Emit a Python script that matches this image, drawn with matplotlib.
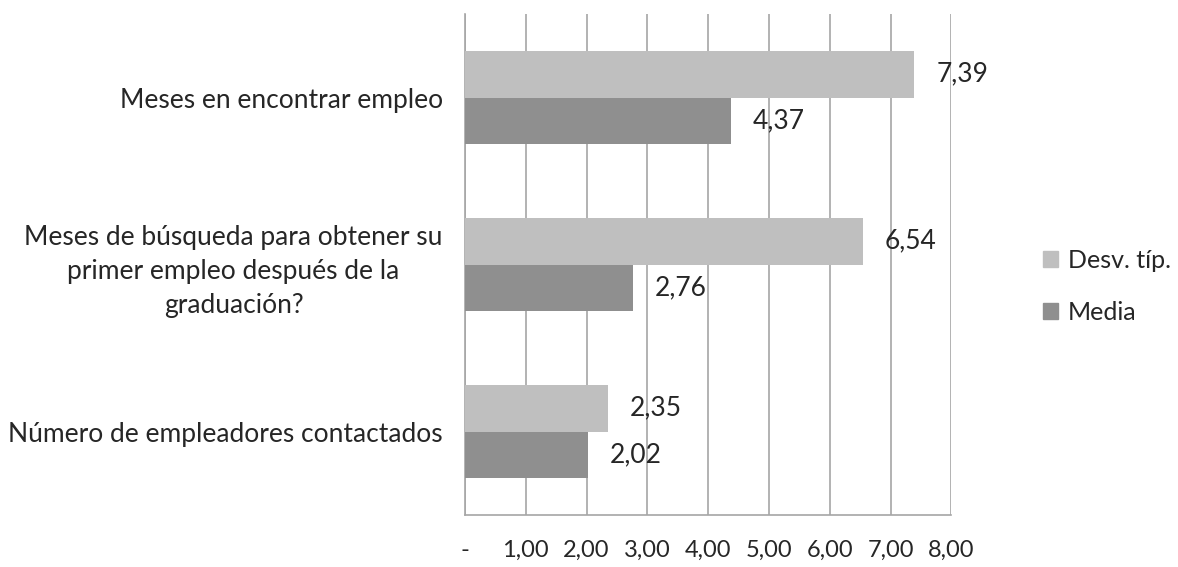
import matplotlib
matplotlib.use("Agg")
import matplotlib.pyplot as plt
import numpy as np
from matplotlib.patches import Patch

categories = ["Meses en encontrar empleo",
              "Meses de búsqueda para obtener su\nprimer empleo después de la\ngraduación?",
              "Número de empleadores contactados"]
desv = [7.39, 6.54, 2.35]
media = [4.37, 2.76, 2.02]
series_names = ["Desv. típ.", "Media"]
xticks = [0, 1, 2, 3, 4, 5, 6, 7, 8]
xticklabels = ["-", "1,00", "2,00", "3,00", "4,00", "5,00", "6,00", "7,00", "8,00"]

plt.rcParams['font.family'] = ['Lato', 'DejaVu Sans']
FS = 19
c_light = "#BFBFBF"
c_dark = "#8F8F8F"
c_text = "#262626"

fig = plt.figure(figsize=(11.78, 5.67), dpi=100)
ax = fig.add_axes([0.3947, 0.0917, 0.8077 - 0.3947, 0.9753 - 0.0917])

y = np.arange(len(categories))
h = 0.28
ax.barh(y - h / 2, desv, height=h, color=c_light, zorder=3)
ax.barh(y + h / 2, media, height=h, color=c_dark, zorder=3)

for yi, v in zip(y - h / 2, desv):
    ax.annotate(f"{v:.2f}".replace(".", ","), (v, yi), xytext=(16, 0), textcoords="offset points",
                va="center", ha="left", fontsize=FS, color=c_text, zorder=5)
for yi, v in zip(y + h / 2, media):
    ax.annotate(f"{v:.2f}".replace(".", ","), (v, yi), xytext=(16, 0), textcoords="offset points",
                va="center", ha="left", fontsize=FS, color=c_text, zorder=5)

ax.set_xlim(0, 8)
ax.set_ylim(len(categories) - 0.5, -0.5)
ax.set_xticks(xticks)
ax.set_xticklabels(xticklabels, fontsize=17, color=c_text)
ax.set_yticks(y)
ax.set_yticklabels(categories, fontsize=FS, color=c_text, multialignment="center", linespacing=1.45)
ax.tick_params(axis="x", length=0, pad=18)
ax.tick_params(axis="y", length=0, pad=16)

ax.grid(axis="x", color="#A6A6A6", linewidth=1.2, zorder=0)
ax.grid(axis="y", visible=False)
for s in ["top", "right"]:
    ax.spines[s].set_visible(False)
ax.spines["left"].set_color("#A6A6A6")
ax.spines["left"].set_linewidth(1.2)
ax.spines["bottom"].set_color("#A6A6A6")
ax.spines["bottom"].set_linewidth(1.2)

handles = [Patch(color=c_light), Patch(color=c_dark)]
fig.legend(handles, series_names, loc="center left", bbox_to_anchor=(1043 / 1178, 0.4947),
           frameon=False, fontsize=18, handlelength=0.6, handleheight=0.6,
           handletextpad=0.4, labelspacing=1.15, labelcolor=c_text,
           borderpad=0, borderaxespad=0)

fig.savefig("out.png", dpi=100)
